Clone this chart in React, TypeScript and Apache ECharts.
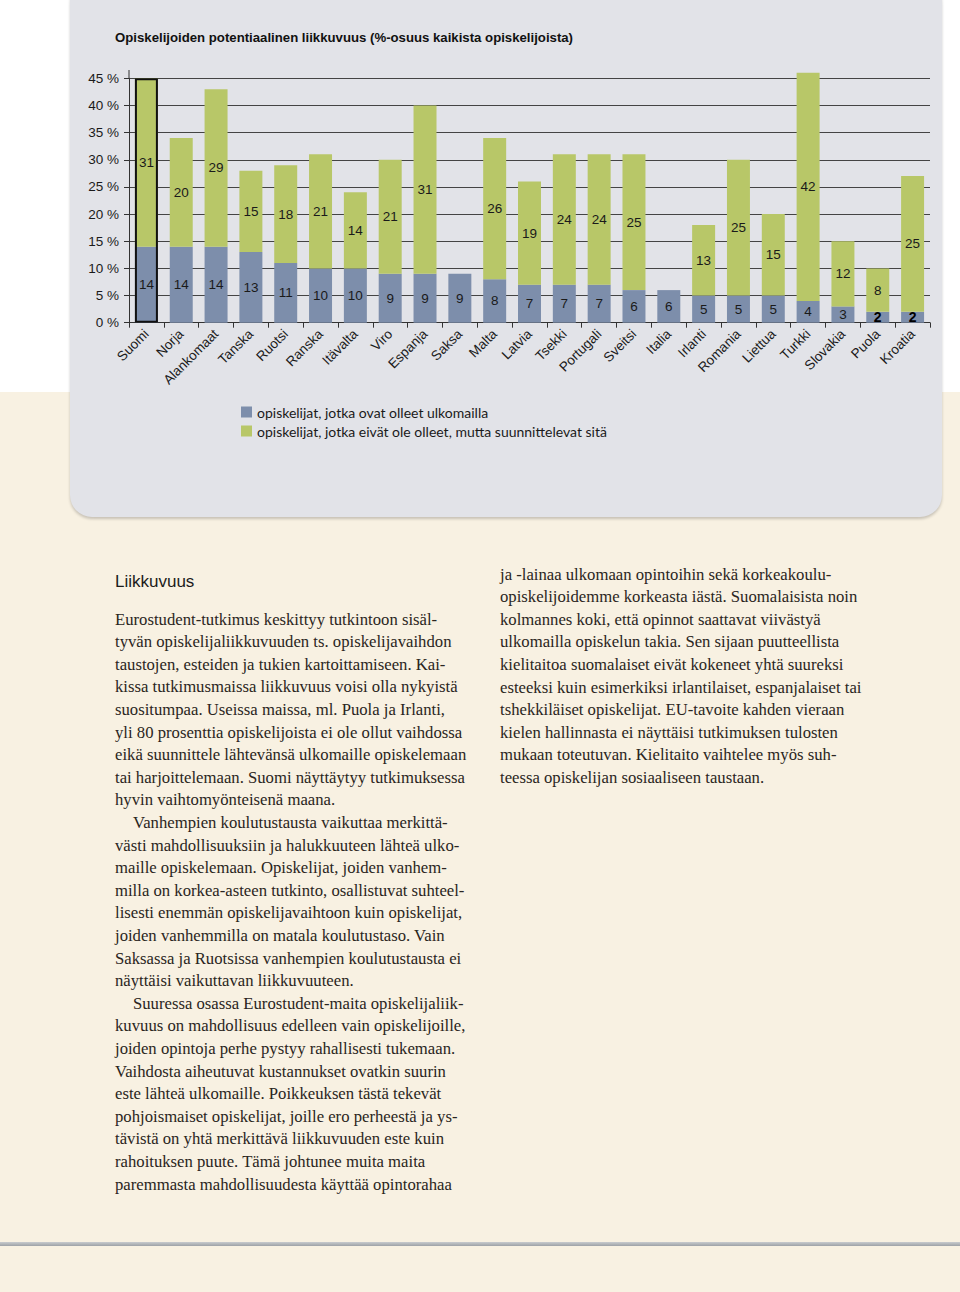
import React, { useEffect, useRef } from "react";
import * as echarts from "echarts";

const categories = [
  "Suomi", "Norja", "Alankomaat", "Tanska", "Ruotsi", "Ranska", "Itävalta", "Viro",
  "Espanja", "Saksa", "Malta", "Latvia", "Tsekki", "Portugali", "Sveitsi", "Italia",
  "Irlanti", "Romania", "Liettua", "Turkki", "Slovakia", "Puola", "Kroatia",
];
const abroad = [14, 14, 14, 13, 11, 10, 10, 9, 9, 9, 8, 7, 7, 7, 6, 6, 5, 5, 5, 4, 3, 2, 2];
const planning = [31, 20, 29, 15, 18, 21, 14, 21, 31, null, 26, 19, 24, 24, 25, null, 13, 25, 15, 42, 12, 8, 25];
const highlighted = ["Suomi"];
const seriesNames = [
  "opiskelijat, jotka ovat olleet ulkomailla",
  "opiskelijat, jotka eivät ole olleet, mutta suunnittelevat sitä",
];
const yTicks = { min: 0, max: 45, interval: 5 };
const title = "Opiskelijoiden potentiaalinen liikkuvuus (%-osuus kaikista opiskelijoista)";

const heading = "Liikkuvuus";
const col1: [string, boolean][] = [
  ["Eurostudent-tutkimus keskittyy tutkintoon sisäl-", false],
  ["tyvän opiskelijaliikkuvuuden ts. opiskelijavaihdon", false],
  ["taustojen, esteiden ja tukien kartoittamiseen. Kai-", false],
  ["kissa tutkimusmaissa liikkuvuus voisi olla nykyistä", false],
  ["suositumpaa. Useissa maissa, ml. Puola ja Irlanti,", false],
  ["yli 80 prosenttia opiskelijoista ei ole ollut vaihdossa", false],
  ["eikä suunnittele lähtevänsä ulkomaille opiskelemaan", false],
  ["tai harjoittelemaan. Suomi näyttäytyy tutkimuksessa", false],
  ["hyvin vaihtomyönteisenä maana.", false],
  ["Vanhempien koulutustausta vaikuttaa merkittä-", true],
  ["västi mahdollisuuksiin ja halukkuuteen lähteä ulko-", false],
  ["maille opiskelemaan. Opiskelijat, joiden vanhem-", false],
  ["milla on korkea-asteen tutkinto, osallistuvat suhteel-", false],
  ["lisesti enemmän opiskelijavaihtoon kuin opiskelijat,", false],
  ["joiden vanhemmilla on matala koulutustaso. Vain", false],
  ["Saksassa ja Ruotsissa vanhempien koulutustausta ei", false],
  ["näyttäisi vaikuttavan liikkuvuuteen.", false],
  ["Suuressa osassa Eurostudent-maita opiskelijaliik-", true],
  ["kuvuus on mahdollisuus edelleen vain opiskelijoille,", false],
  ["joiden opintoja perhe pystyy rahallisesti tukemaan.", false],
  ["Vaihdosta aiheutuvat kustannukset ovatkin suurin", false],
  ["este lähteä ulkomaille. Poikkeuksen tästä tekevät", false],
  ["pohjoismaiset opiskelijat, joille ero perheestä ja ys-", false],
  ["tävistä on yhtä merkittävä liikkuvuuden este kuin", false],
  ["rahoituksen puute. Tämä johtunee muita maita", false],
  ["paremmasta mahdollisuudesta käyttää opintorahaa", false],
];
const col2 = [
  "ja -lainaa ulkomaan opintoihin sekä korkeakoulu-",
  "opiskelijoidemme korkeasta iästä. Suomalaisista noin",
  "kolmannes koki, että opinnot saattavat viivästyä",
  "ulkomailla opiskelun takia. Sen sijaan puutteellista",
  "kielitaitoa suomalaiset eivät kokeneet yhtä suureksi",
  "esteeksi kuin esimerkiksi irlantilaiset, espanjalaiset tai",
  "tshekkiläiset opiskelijat. EU-tavoite kahden vieraan",
  "kielen hallinnasta ei näyttäisi tutkimuksen tulosten",
  "mukaan toteutuvan. Kielitaito vaihtelee myös suh-",
  "teessa opiskelijan sosiaaliseen taustaan.",
];

const BLUE = "#7d8eab";
const GREEN = "#b8c768";
const SANS = "'Liberation Sans', Arial, sans-serif";

function Chart() {
  const ref = useRef<HTMLDivElement>(null);
  useEffect(() => {
    if (!ref.current) return;
    const chart = echarts.init(ref.current, null, { renderer: "svg" });
    const labelBase = {
      show: true,
      position: "inside",
      color: "#1a1a1a",
      fontSize: 13.5,
      fontFamily: SANS,
    };
    chart.setOption({
      animation: false,
      backgroundColor: "transparent",
      title: {
        text: title,
        left: 110,
        top: 26,
        textStyle: { fontSize: 13.2, fontWeight: "bold", color: "#111", fontFamily: SANS },
      },
      legend: {
        data: seriesNames,
        orient: "vertical",
        left: 236,
        top: 400,
        itemWidth: 11,
        itemHeight: 11,
        itemGap: 5,
        icon: "rect",
        textStyle: { fontSize: 14, color: "#1a1a1a", fontFamily: "Lato, sans-serif" },
      },
      grid: { left: 129, right: 30, top: 78.3, bottom: 197.3 },
      xAxis: {
        type: "category",
        data: categories,
        axisLine: { lineStyle: { color: "#333", width: 1 } },
        axisTick: { show: true, length: 5, lineStyle: { color: "#333" } },
        axisLabel: {
          interval: 0,
          rotate: 45,
          margin: 9,
          fontSize: 13.5,
          color: "#1a1a1a",
          fontFamily: SANS,
        },
      },
      yAxis: {
        type: "value",
        min: yTicks.min,
        max: yTicks.max,
        interval: yTicks.interval,
        axisLine: { show: true, lineStyle: { color: "#333" } },
        axisTick: { show: true, length: 5, lineStyle: { color: "#333" } },
        axisLabel: {
          formatter: "{value} %",
          fontSize: 13.5,
          color: "#1a1a1a",
          fontFamily: SANS,
          margin: 10,
        },
        splitLine: { show: true, lineStyle: { color: "#444", width: 1 } },
      },
      graphic: [
        {
          type: "line",
          shape: { x1: 129, y1: 70, x2: 129, y2: 79 },
          style: { stroke: "#333", lineWidth: 1 },
        },
      ],
      series: [
        {
          name: seriesNames[0],
          type: "bar",
          stack: "total",
          barWidth: "66%",
          clip: false,
          itemStyle: { color: BLUE },
          label: labelBase,
          data: abroad.map((v) => ({
            value: v,
            label: v <= 2 ? { fontWeight: "bold", fontSize: 14, color: "#000" } : undefined,
          })),
        },
        {
          name: seriesNames[1],
          type: "bar",
          stack: "total",
          barWidth: "66%",
          clip: false,
          itemStyle: { color: GREEN },
          label: labelBase,
          data: planning.map((v) => (v == null ? "-" : v)),
        },
        {
          name: "outline",
          type: "bar",
          barWidth: "66%",
          barGap: "-100%",
          silent: true,
          clip: false,
          z: 5,
          itemStyle: { color: "rgba(0,0,0,0)", borderColor: "#111", borderWidth: 2 },
          label: { show: false },
          data: categories.map((c, i) =>
            highlighted.includes(c) ? abroad[i] + (planning[i] || 0) : "-"
          ),
        },
      ],
    });
    return () => chart.dispose();
  }, []);
  return (
    <div
      ref={ref}
      style={{ position: "absolute", left: 0, top: 0, width: 960, height: 520 }}
    />
  );
}

export default function App() {
  const LH = 22.6;
  const textStyle: React.CSSProperties = {
    fontFamily: "'Liberation Serif', 'Times New Roman', serif",
    fontSize: 16.7,
    color: "#2a2521",
    lineHeight: `${LH}px`,
    whiteSpace: "nowrap",
  };
  return (
    <div
      style={{
        position: "absolute",
        left: 0,
        top: 0,
        width: 960,
        height: 1292,
        overflow: "hidden",
        background: "linear-gradient(to bottom, #ffffff 0px, #ffffff 392px, #f8f1e2 392px, #f8f1e2 100%)",
      }}
    >
      <div
        style={{
          position: "absolute",
          left: 70,
          top: -20,
          width: 872,
          height: 537,
          borderRadius: 22,
          background: "#e2e3e8",
          boxShadow: "0 2px 3px rgba(0,0,0,0.2)",
        }}
      />
      <Chart />
      <div
        style={{
          position: "absolute",
          left: 115,
          top: 571,
          fontFamily: SANS,
          fontSize: 17,
          color: "#1c1c1c",
          lineHeight: "22px",
        }}
      >
        {heading}
      </div>
      <div style={{ position: "absolute", left: 115, top: 620 - LH / 2, ...textStyle }}>
        {col1.map(([t, indent], i) => (
          <div key={i} style={{ paddingLeft: indent ? 18 : 0 }}>
            {t}
          </div>
        ))}
      </div>
      <div style={{ position: "absolute", left: 500, top: 575 - LH / 2, ...textStyle }}>
        {col2.map((t, i) => (
          <div key={i}>{t}</div>
        ))}
      </div>
      <div
        style={{
          position: "absolute",
          left: 0,
          top: 1242,
          width: 960,
          height: 4,
          background: "linear-gradient(to bottom, #c8cbce, #9ea2a7)",
        }}
      />
    </div>
  );
}
